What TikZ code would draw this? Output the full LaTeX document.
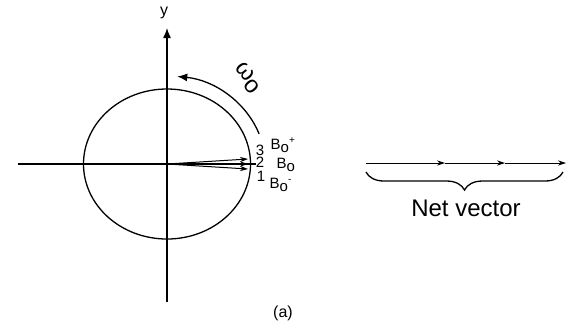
\documentclass[tikz,border=0pt]{standalone}
\usepackage{fontspec}
\setmainfont{Liberation Sans}
\usetikzlibrary{arrows.meta,decorations.pathreplacing}
\begin{document}
\begin{tikzpicture}[x=0.5pt,y=-0.5pt,line width=0.65pt,
    lbl/.style={inner sep=0pt,font=\fontsize{7.5}{8}\selectfont},
    vec/.style={-{Stealth[length=4pt,width=2.6pt]},line width=0.5pt}]
        \useasboundingbox (0,0) rectangle (571,329);
        \coordinate (O) at (167,164);
        \coordinate (xl) at (18,164);
        \coordinate (xr) at (256,164);
        \coordinate (yb) at (167,302);
        \coordinate (yt) at (167,28);
        \draw (xl)--(xr);
        \draw[-{Latex[length=5pt,width=4pt]}] (yb)--(yt);
        \node[font=\fontsize{8}{9}\selectfont] (ylab) at (164,13) {y};
        \draw (O) ellipse[x radius=83.5,y radius=75];
        \draw[-{Latex[length=5pt,width=4pt]}] (O) ++(-20:98 and 88) arc[start angle=-20,end angle=-84,x radius=98,y radius=88];
        \node[rotate=-50,inner sep=0pt,font=\fontsize{12}{13}\selectfont] (omega) at (248,78) {ω\raisebox{-0.4ex}{o}};
        \coordinate (v3) at (248,159);
        \coordinate (v2) at (248,164);
        \coordinate (v1) at (248,169);
        \draw[vec] (O)--(v3);
        \draw[vec] (O)--(v2);
        \draw[vec] (O)--(v1);
        \node[lbl] (n3) at (260,150) {3};
        \node[lbl] (n2) at (260,162) {2};
        \node[lbl] (n1) at (261,176) {1};
        \node[lbl,anchor=west] (b3) at (270,145) {B\raisebox{-0.4ex}{o}\raisebox{0.7ex}{\fontsize{5}{5}\selectfont +}};
        \node[lbl,anchor=west] (b2) at (276,165) {B\raisebox{-0.4ex}{o}};
        \node[lbl,anchor=west] (b1) at (269,185) {B\raisebox{-0.4ex}{o}\raisebox{0.7ex}{\fontsize{5}{5}\selectfont -}};
        \coordinate (a0) at (366,163);
        \coordinate (a1) at (445,163);
        \coordinate (a2) at (505,163);
        \coordinate (a3) at (566,163);
        \draw[vec] (a0)--(a1);
        \draw[vec] (a1)--(a2);
        \draw[vec] (a2)--(a3);
        \draw[decorate,decoration={brace,mirror,amplitude=9pt}] (366,172)--(563,172);
        \node[font=\fontsize{12}{13}\selectfont] (net) at (466,208) {Net vector};
        \node[font=\fontsize{8}{9}\selectfont] (cap) at (283,313) {(a)};
\end{tikzpicture}
\end{document}
